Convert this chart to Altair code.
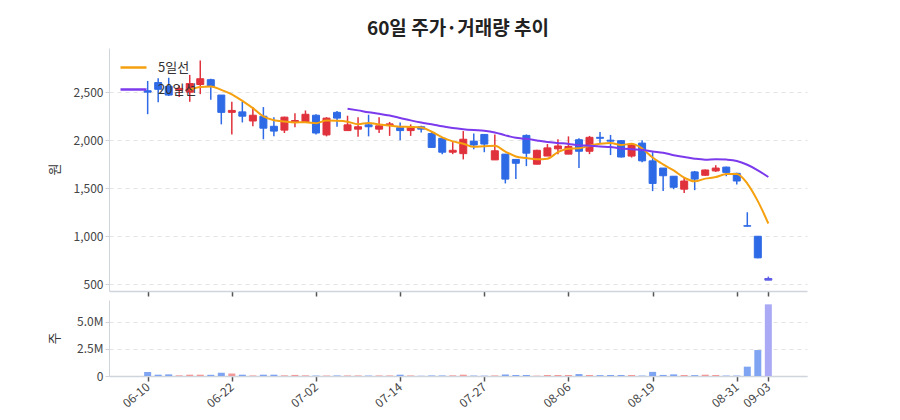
import altair as alt
import pandas as pd

# 60 trading days (2021)
dates = ['06-10', '06-11', '06-14', '06-15', '06-16', '06-17', '06-18', '06-21', '06-22', '06-23',
         '06-24', '06-25', '06-28', '06-29', '06-30', '07-01', '07-02', '07-05', '07-06', '07-07',
         '07-08', '07-09', '07-12', '07-13', '07-14', '07-15', '07-19', '07-20', '07-21', '07-22',
         '07-23', '07-26', '07-27', '07-28', '07-29', '07-30', '08-02', '08-03', '08-04', '08-05',
         '08-06', '08-09', '08-10', '08-11', '08-12', '08-13', '08-17', '08-18', '08-19', '08-20',
         '08-23', '08-24', '08-25', '08-26', '08-27', '08-30', '08-31', '09-01', '09-02', '09-03']
opens = [2515, 2600, 2560, 2520, 2500, 2580, 2630, 2470, 2290, 2295,
         2200, 2250, 2145, 2105, 2185, 2190, 2260, 2055, 2290, 2100,
         2115, 2160, 2115, 2160, 2130, 2100, 2140, 2070, 2020, 1875,
         1860, 1990, 2060, 1795, 1855, 1800, 2050, 1750, 1835, 1910,
         1855, 2005, 1885, 2030, 2000, 1995, 1835, 1970, 1785, 1710,
         1625, 1490, 1670, 1635, 1680, 1720, 1655, 1110, 1000, 560]
highs = [2617, 2645, 2650, 2570, 2680, 2830, 2640, 2470, 2400, 2400,
         2345, 2345, 2240, 2245, 2280, 2310, 2270, 2240, 2305, 2255,
         2240, 2265, 2240, 2190, 2185, 2165, 2150, 2095, 2020, 1980,
         2095, 2070, 2060, 2060, 1855, 1800, 2060, 1900, 1960, 2010,
         2040, 2020, 2045, 2085, 2055, 2000, 1960, 2000, 1875, 1710,
         1625, 1615, 1680, 1695, 1740, 1725, 1660, 1250, 1003, 580]
lows = [2271, 2395, 2460, 2450, 2400, 2480, 2420, 2165, 2060, 2185,
        2145, 2010, 2040, 2075, 2135, 2190, 2060, 2040, 2140, 2100,
        2035, 2040, 2075, 2045, 2000, 2045, 2080, 1925, 1855, 1855,
        1800, 1905, 1875, 1795, 1550, 1595, 1730, 1750, 1835, 1855,
        1855, 1710, 1855, 1970, 1845, 1820, 1820, 1770, 1470, 1470,
        1490, 1450, 1480, 1630, 1670, 1625, 1540, 1100, 771, 543]
closes = [2500, 2530, 2470, 2540, 2590, 2640, 2560, 2290, 2310, 2250,
          2260, 2125, 2095, 2240, 2205, 2270, 2075, 2230, 2230, 2160,
          2140, 2140, 2150, 2170, 2100, 2130, 2115, 1925, 1875, 1895,
          2010, 1950, 1960, 1890, 1595, 1760, 1865, 1895, 1920, 1940,
          1935, 1885, 2030, 2020, 1990, 1825, 1950, 1785, 1550, 1630,
          1510, 1575, 1595, 1690, 1710, 1665, 1575, 1105, 775, 543]
volumes = [370000, 120000, 150000, 60000, 120000, 120000, 110000, 300000, 230000, 120000,
           50000, 120000, 120000, 60000, 100000, 60000, 40000, 40000, 50000, 50000,
           50000, 40000, 50000, 50000, 120000, 50000, 20000, 50000, 50000, 60000,
           120000, 40000, 30000, 50000, 140000, 90000, 90000, 30000, 90000, 90000,
           90000, 180000, 90000, 80000, 90000, 90000, 90000, 40000, 380000, 100000,
           150000, 90000, 80000, 120000, 90000, 40000, 40000, 860000, 2390000, 6600000]
tick_idx = [0, 8, 16, 24, 32, 40, 48, 56, 59]

UP, DOWN, LAST = '#e0323c', '#2e6ae6', '#5c5ce6'
UP_V, DOWN_V, LAST_V = '#f29a9a', '#7fa4f2', '#a9a9f5'
ORANGE, PURPLE = '#f5a00f', '#7c3aed'
FONT = 'Noto Sans CJK KR'

df = pd.DataFrame({'idx': range(len(dates)), 'date': dates, 'open': opens, 'high': highs,
                   'low': lows, 'close': closes, 'volume': volumes})

label_expr = "''"
for i in reversed(tick_idx):
    label_expr = f"datum.value == {i} ? '{dates[i]}' : " + label_expr

x_scale = alt.Scale(domain=[-3.2, 62.2], nice=False, zero=False)
grid_kw = dict(gridColor='#e3e3e3', gridDash=[4, 4], domainColor='#d0d4dc', tickColor='#d0d4dc',
               tickSize=4, labelColor='#444', labelFontSize=12, titleColor='#333',
               titleFontSize=13, titleFontWeight='normal', titleAngle=270, titleAlign='center',
               titleBaseline='middle', titleX=-55)

base = alt.Chart(df).transform_calculate(
    col=f"datum.idx == 59 ? '{LAST}' : datum.close > datum.open ? '{UP}' : '{DOWN}'",
    vcol=f"datum.idx == 59 ? '{LAST_V}' : datum.close > datum.open ? '{UP_V}' : '{DOWN_V}'",
)

x_top = alt.X('idx:Q', scale=x_scale,
              axis=alt.Axis(values=tick_idx, labels=False, title=None, grid=False, tickSize=5,
                            tickWidth=1.5, tickColor='#555', domainColor='#d0d4dc', domainWidth=1.5))
y_scale = alt.Scale(domain=[430, 2960], nice=False, zero=False)
y_axis = alt.Axis(values=[500, 1000, 1500, 2000, 2500], format=',d', title='원', titleY=121, **grid_kw)

wick = base.mark_rule(strokeWidth=1.5).encode(
    x=x_top,
    y=alt.Y('low:Q', scale=y_scale, axis=y_axis),
    y2='high:Q',
    stroke=alt.Stroke('col:N', scale=None),
)
body = base.mark_bar(size=7, strokeWidth=1).encode(
    x=x_top,
    y=alt.Y('open:Q', scale=y_scale, axis=y_axis),
    y2='close:Q',
    fill=alt.Fill('col:N', scale=None),
    stroke=alt.Stroke('col:N', scale=None),
)

ma = base.transform_window(
    ma5='mean(close)', frame=[-4, 0], sort=[alt.SortField('idx')]
).transform_window(
    ma20='mean(close)', frame=[-19, 0], sort=[alt.SortField('idx')]
).transform_calculate(
    ma5='datum.idx >= 4 ? datum.ma5 : null',
    ma20='datum.idx >= 19 ? datum.ma20 : null',
).transform_fold(
    ['ma5', 'ma20'], as_=['key', 'value']
).transform_filter(
    'isValid(datum.value)'
).transform_calculate(
    series="datum.key == 'ma5' ? '5일선' : '20일선'"
)

lines = ma.mark_line(strokeWidth=2, interpolate='monotone').encode(
    x=x_top,
    y=alt.Y('value:Q', scale=y_scale, axis=y_axis),
    color=alt.Color('series:N',
                    scale=alt.Scale(domain=['5일선', '20일선'], range=[ORANGE, PURPLE]),
                    legend=alt.Legend(title=None, orient='none', legendX=10, legendY=5,
                                      symbolType='stroke', symbolSize=676, symbolStrokeWidth=2.5,
                                      labelFontSize=13, labelColor='#333', labelOffset=10,
                                      rowPadding=-4, padding=0)),
)

price = alt.layer(wick, body, lines).properties(
    width=698, height=243,
    title=alt.TitleParams('60일 주가·거래량 추이', fontSize=19, fontWeight='bold',
                          anchor='middle', frame='group', offset=9, color='#222'),
)

vol = base.mark_bar(size=7).encode(
    x=alt.X('idx:Q', scale=x_scale,
            axis=alt.Axis(values=tick_idx, labelExpr=label_expr, labelAngle=320,
                          labelAlign='right', labelBaseline='middle', title=None, grid=False,
                          tickSize=5, tickWidth=1.5, tickColor='#555', domainColor='#d0d4dc',
                          domainWidth=1.5, labelColor='#444', labelFontSize=12, labelPadding=4)),
    y=alt.Y('volume:Q', scale=alt.Scale(domain=[0, 7000000], nice=False),
            axis=alt.Axis(values=[0, 2500000, 5000000], title='주', titleY=38,
                          labelExpr="datum.value == 0 ? '0' : format(datum.value / 1000000, '.1f') + 'M'",
                          **grid_kw)),
    fill=alt.Fill('vcol:N', scale=None),
).properties(width=698, height=76)

chart = alt.vconcat(price, vol, spacing=3).properties(
    padding={'left': 40, 'top': 12, 'right': 5, 'bottom': 5}
).configure(font=FONT).configure_view(stroke=None)

chart.save("out.html", embed_options={"renderer": "svg", "actions": False})
